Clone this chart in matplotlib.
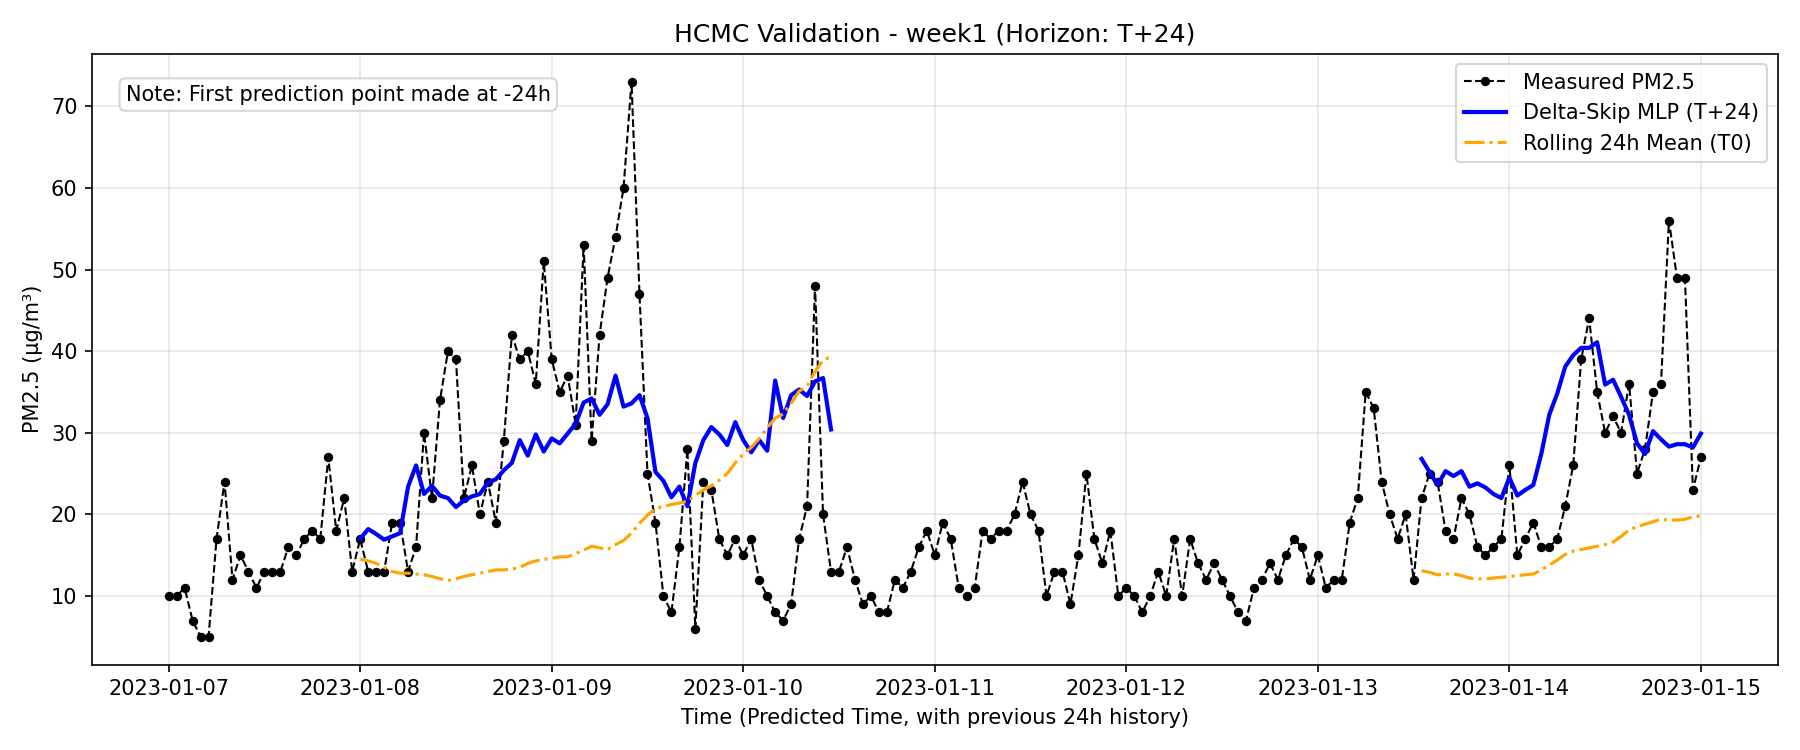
import numpy as np
import pandas as pd
import matplotlib.pyplot as plt
import matplotlib.dates as mdates

# Measured PM2.5, hourly from 2023-01-07 00:00 to 2023-01-15 00:00
measured = [
    10, 10, 11, 7, 5, 5, 17, 24, 12, 15, 13, 11, 13, 13, 13, 16, 15, 17, 18, 17, 27, 18, 22, 13,
    17, 13, 13, 13, 19, 19, 13, 16, 30, 22, 34, 40, 39, 22, 26, 20, 24, 19, 29, 42, 39, 40, 36, 51,
    39, 35, 37, 31, 53, 29, 42, 49, 54, 60, 73, 47, 25, 19, 10, 8, 16, 28, 6, 24, 23, 17, 15, 17,
    15, 17, 12, 10, 8, 7, 9, 17, 21, 48, 20, 13, 13, 16, 12, 9, 10, 8, 8, 12, 11, 13, 16, 18,
    15, 19, 17, 11, 10, 11, 18, 17, 18, 18, 20, 24, 20, 18, 10, 13, 13, 9, 15, 25, 17, 14, 18, 10,
    11, 10, 8, 10, 13, 10, 17, 10, 17, 14, 12, 14, 12, 10, 8, 7, 11, 12, 14, 12, 15, 17, 16, 12,
    15, 11, 12, 12, 19, 22, 35, 33, 24, 20, 17, 20, 12, 22, 25, 24, 18, 17, 22, 20, 16, 15, 16, 17,
    26, 15, 17, 19, 16, 16, 17, 21, 26, 39, 44, 35, 30, 32, 30, 36, 25, 28, 35, 36, 56, 49, 49, 23,
    27,
]
t_measured = pd.date_range("2023-01-07 00:00", periods=len(measured), freq="h")

# prediction window 1 (starts 2023-01-08 00:00)
mlp_1 = [
    17.0, 18.2, 17.6, 16.9, 17.3, 17.7, 23.4, 26.0, 22.5, 23.5, 22.3, 22.0, 20.9, 21.7, 22.2, 22.5,
    23.9, 24.3, 25.4, 26.3, 29.1, 27.2, 29.8, 27.7, 29.3, 28.7, 29.9, 31.1, 33.7, 34.2, 32.2, 33.5,
    37.0, 33.2, 33.6, 34.6, 31.8, 25.2, 24.1, 22.1, 23.4, 21.0, 26.3, 29.1, 30.7, 29.8, 28.5, 31.3,
    29.1, 27.6, 29.1, 27.8, 36.4, 31.8, 34.6, 35.3, 34.5, 36.3, 36.7, 30.4,
]
roll_1 = [
    14.5, 14.3, 14.0, 13.5, 13.0, 12.8, 12.8, 12.7, 12.6, 12.4, 12.1, 11.9, 12.1, 12.4, 12.6, 12.8,
    13.0, 13.2, 13.2, 13.3, 13.5, 14.0, 14.3, 14.5, 14.6, 14.8, 14.8, 15.2, 15.6, 16.1, 15.9, 15.7,
    16.3, 16.8, 17.7, 18.9, 19.9, 20.7, 21.0, 21.2, 21.4, 21.6, 22.3, 23.0, 23.5, 24.2, 25.0, 26.3,
    27.4, 28.2, 29.3, 30.6, 31.8, 32.3, 33.6, 35.1, 35.7, 37.5, 38.9, 39.3,
]
t_pred_1 = pd.date_range("2023-01-08 00:00", periods=len(mlp_1), freq="h")

# prediction window 2 (starts 2023-01-13 13:00)
mlp_2 = [
    26.8, 25.2, 23.6, 25.3, 24.7, 25.3, 23.4, 23.8, 23.3, 22.5, 22.0, 24.5, 22.3, 23.0, 23.6, 27.4,
    32.2, 34.8, 38.1, 39.5, 40.4, 40.4, 41.1, 35.9, 36.5, 34.4, 32.2, 28.7, 27.4, 30.2, 29.2, 28.3,
    28.6, 28.6, 28.2, 29.9,
]
roll_2 = [
    13.1, 12.9, 12.6, 12.7, 12.7, 12.5, 12.2, 12.1, 12.1, 12.2, 12.3, 12.4, 12.5, 12.6, 12.7, 13.2,
    13.8, 14.4, 15.1, 15.5, 15.7, 15.9, 16.1, 16.3, 16.6, 17.3, 18.1, 18.5, 18.8, 19.1, 19.4, 19.3,
    19.3, 19.4, 19.7, 19.8,
]
t_pred_2 = pd.date_range("2023-01-13 13:00", periods=len(mlp_2), freq="h")

fig, ax = plt.subplots(figsize=(12, 5), dpi=150)

ax.plot(t_measured, measured, 'k--', marker='o', markersize=3.5, linewidth=1, label='Measured PM2.5')
ax.plot(t_pred_1, mlp_1, color='blue', linewidth=2, label='Delta-Skip MLP (T+24)')
ax.plot(t_pred_2, mlp_2, color='blue', linewidth=2)
ax.plot(t_pred_1, roll_1, color='orange', linestyle='-.', linewidth=1.5, label='Rolling 24h Mean (T0)')
ax.plot(t_pred_2, roll_2, color='orange', linestyle='-.', linewidth=1.5)

ax.text(0.02, 0.95, 'Note: First prediction point made at -24h', transform=ax.transAxes,
        fontsize=10, va='top',
        bbox=dict(boxstyle='round', facecolor='white', edgecolor='lightgray', alpha=0.9))

ax.set_title('HCMC Validation - week1 (Horizon: T+24)', fontsize=12)
ax.set_xlabel('Time (Predicted Time, with previous 24h history)')
ax.set_ylabel('PM2.5 (µg/m³)')
ax.xaxis.set_major_locator(mdates.DayLocator())
ax.xaxis.set_major_formatter(mdates.DateFormatter('%Y-%m-%d'))
ax.legend(loc='upper right')
ax.grid(True, alpha=0.3)

plt.tight_layout()
plt.savefig('out.png')
